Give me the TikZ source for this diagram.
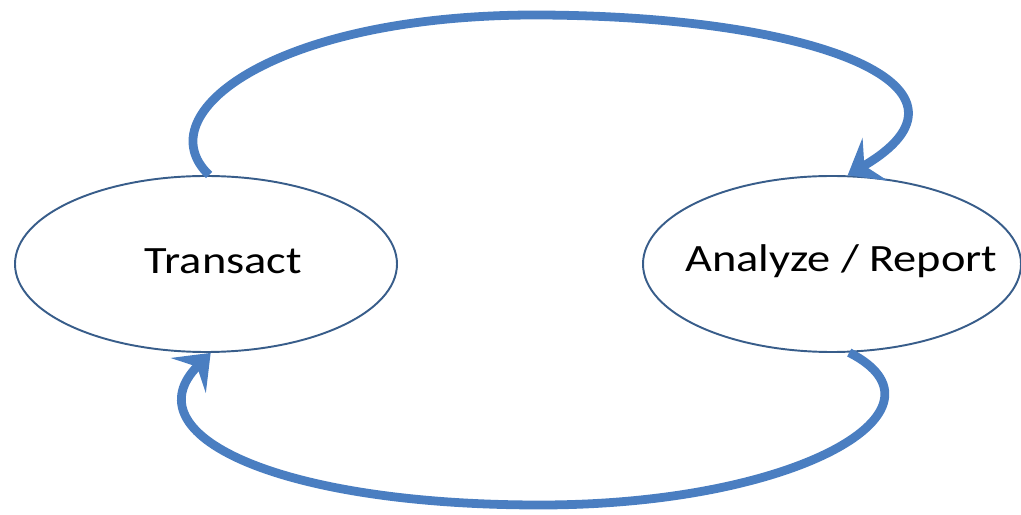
\documentclass[tikz,border=0pt]{standalone}
\usepackage{fontspec}
\usepackage{tikz}
\usetikzlibrary{shapes,arrows.meta,positioning}
\newfontfamily\lblfont[FakeStretch=1.2]{Carlito}
\definecolor{flowblue}{RGB}{74,126,193}
\definecolor{rimblue}{RGB}{56,93,138}

\begin{document}
\begin{tikzpicture}[every node/.style={align=center,font=\lblfont\fontsize{22}{26}\selectfont},
  oval/.style={draw=rimblue,line width=1.1pt,ellipse,inner sep=0pt,minimum width=7.64cm,minimum height=3.52cm},
  loop/.style={draw=flowblue,line width=5pt,-{Stealth[length=18pt,width=28pt,inset=7pt]}}]
\useasboundingbox (0,0) rectangle (20.42,10.28);
\node[oval] (1) at (4.12,5.0) {};
\node[oval,minimum width=7.56cm] (2) at (16.64,5.0) {};
\node (t1) at (4.47,5.05) {Transact};
\node (t2) at (16.83,5.05) {Analyze / Report};

\draw[loop] (1.88) .. controls (2.9,8.0) and (5.5,10.0) .. (10.8,9.98) .. controls (16.5,9.95) and (19.9,8.5) .. (2.80);
\draw[loop] (2.-79) .. controls (19.2,2.1) and (16,0.18) .. (10.8,0.18) .. controls (5.5,0.18) and (2.6,1.6) .. (1.-87);

\end{tikzpicture}
\end{document}
